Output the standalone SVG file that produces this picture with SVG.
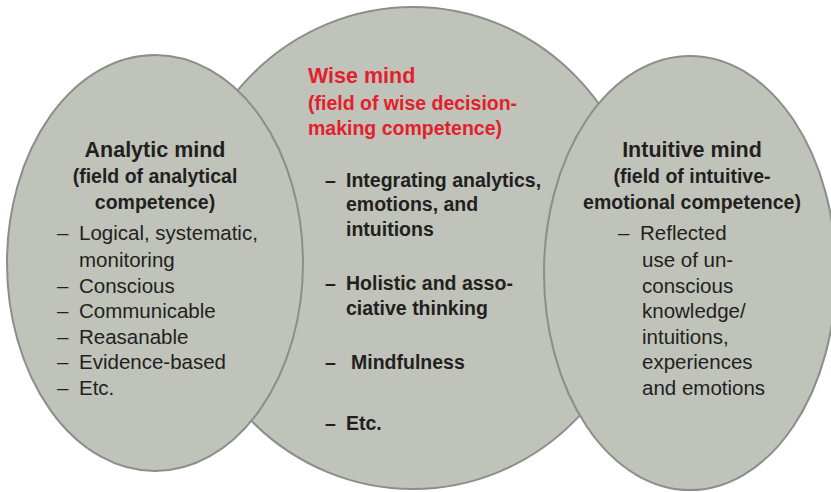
<svg xmlns="http://www.w3.org/2000/svg" width="831" height="492" viewBox="0 0 831 492">
<style>
.blob{fill:#bfc3ba;stroke:#8b8e89;stroke-width:2}
text{font-family:"Liberation Sans",Arial,sans-serif;fill:#231f20}
.h{font-size:21.5px;font-weight:bold}
.s{font-size:19.5px;font-weight:bold}
.b{font-size:20.5px}
.red{fill:#e3202b}
.c{text-anchor:middle}
</style>
<rect width="831" height="492" fill="#ffffff"/>
<g id="node-wise">
<ellipse class="blob" cx="413" cy="248" rx="232" ry="241"/>
<text class="h red" x="308" y="83">Wise mind</text>
<text class="s red" x="308" y="110">(field of wise decision-</text>
<text class="s red" x="308" y="135">making competence)</text>
<text class="s" x="325" y="187">–</text>
<text class="s" x="346" y="187">Integrating analytics,</text>
<text class="s" x="346" y="211">emotions, and</text>
<text class="s" x="346" y="236">intuitions</text>
<text class="s" x="325" y="290">–</text>
<text class="s" x="346" y="290">Holistic and asso-</text>
<text class="s" x="346" y="315">ciative thinking</text>
<text class="s" x="325" y="369">–</text>
<text class="s" x="351" y="369">Mindfulness</text>
<text class="s" x="325" y="430">–</text>
<text class="s" x="346" y="430">Etc.</text>
</g>
<g id="node-analytic">
<ellipse class="blob" cx="155" cy="263" rx="148" ry="208"/>
<text class="h c" x="155" y="157">Analytic mind</text>
<text class="s c" x="155" y="183">(field of analytical</text>
<text class="s c" x="155" y="209">competence)</text>
<text class="b" x="57" y="240">–</text>
<text class="b" x="79" y="240">Logical, systematic,</text>
<text class="b" x="79" y="267">monitoring</text>
<text class="b" x="57" y="293">–</text>
<text class="b" x="79" y="293">Conscious</text>
<text class="b" x="57" y="318">–</text>
<text class="b" x="79" y="318">Communicable</text>
<text class="b" x="57" y="344">–</text>
<text class="b" x="79" y="344">Reasanable</text>
<text class="b" x="57" y="369">–</text>
<text class="b" x="79" y="369">Evidence-based</text>
<text class="b" x="57" y="395">–</text>
<text class="b" x="79" y="395">Etc.</text>
</g>
<g id="node-intuitive">
<ellipse class="blob" cx="690" cy="273" rx="146" ry="217"/>
<text class="h c" x="692" y="157">Intuitive mind</text>
<text class="s c" x="692" y="183">(field of intuitive-</text>
<text class="s c" x="692" y="209">emotional competence)</text>
<text class="b" x="618" y="240">–</text>
<text class="b" x="640" y="240">Reflected</text>
<text class="b" x="642" y="267">use of un-</text>
<text class="b" x="642" y="293">conscious</text>
<text class="b" x="642" y="318">knowledge/</text>
<text class="b" x="642" y="344">intuitions,</text>
<text class="b" x="642" y="369">experiences</text>
<text class="b" x="642" y="395">and emotions</text>
</g>
<g id="connectors"/>
</svg>
